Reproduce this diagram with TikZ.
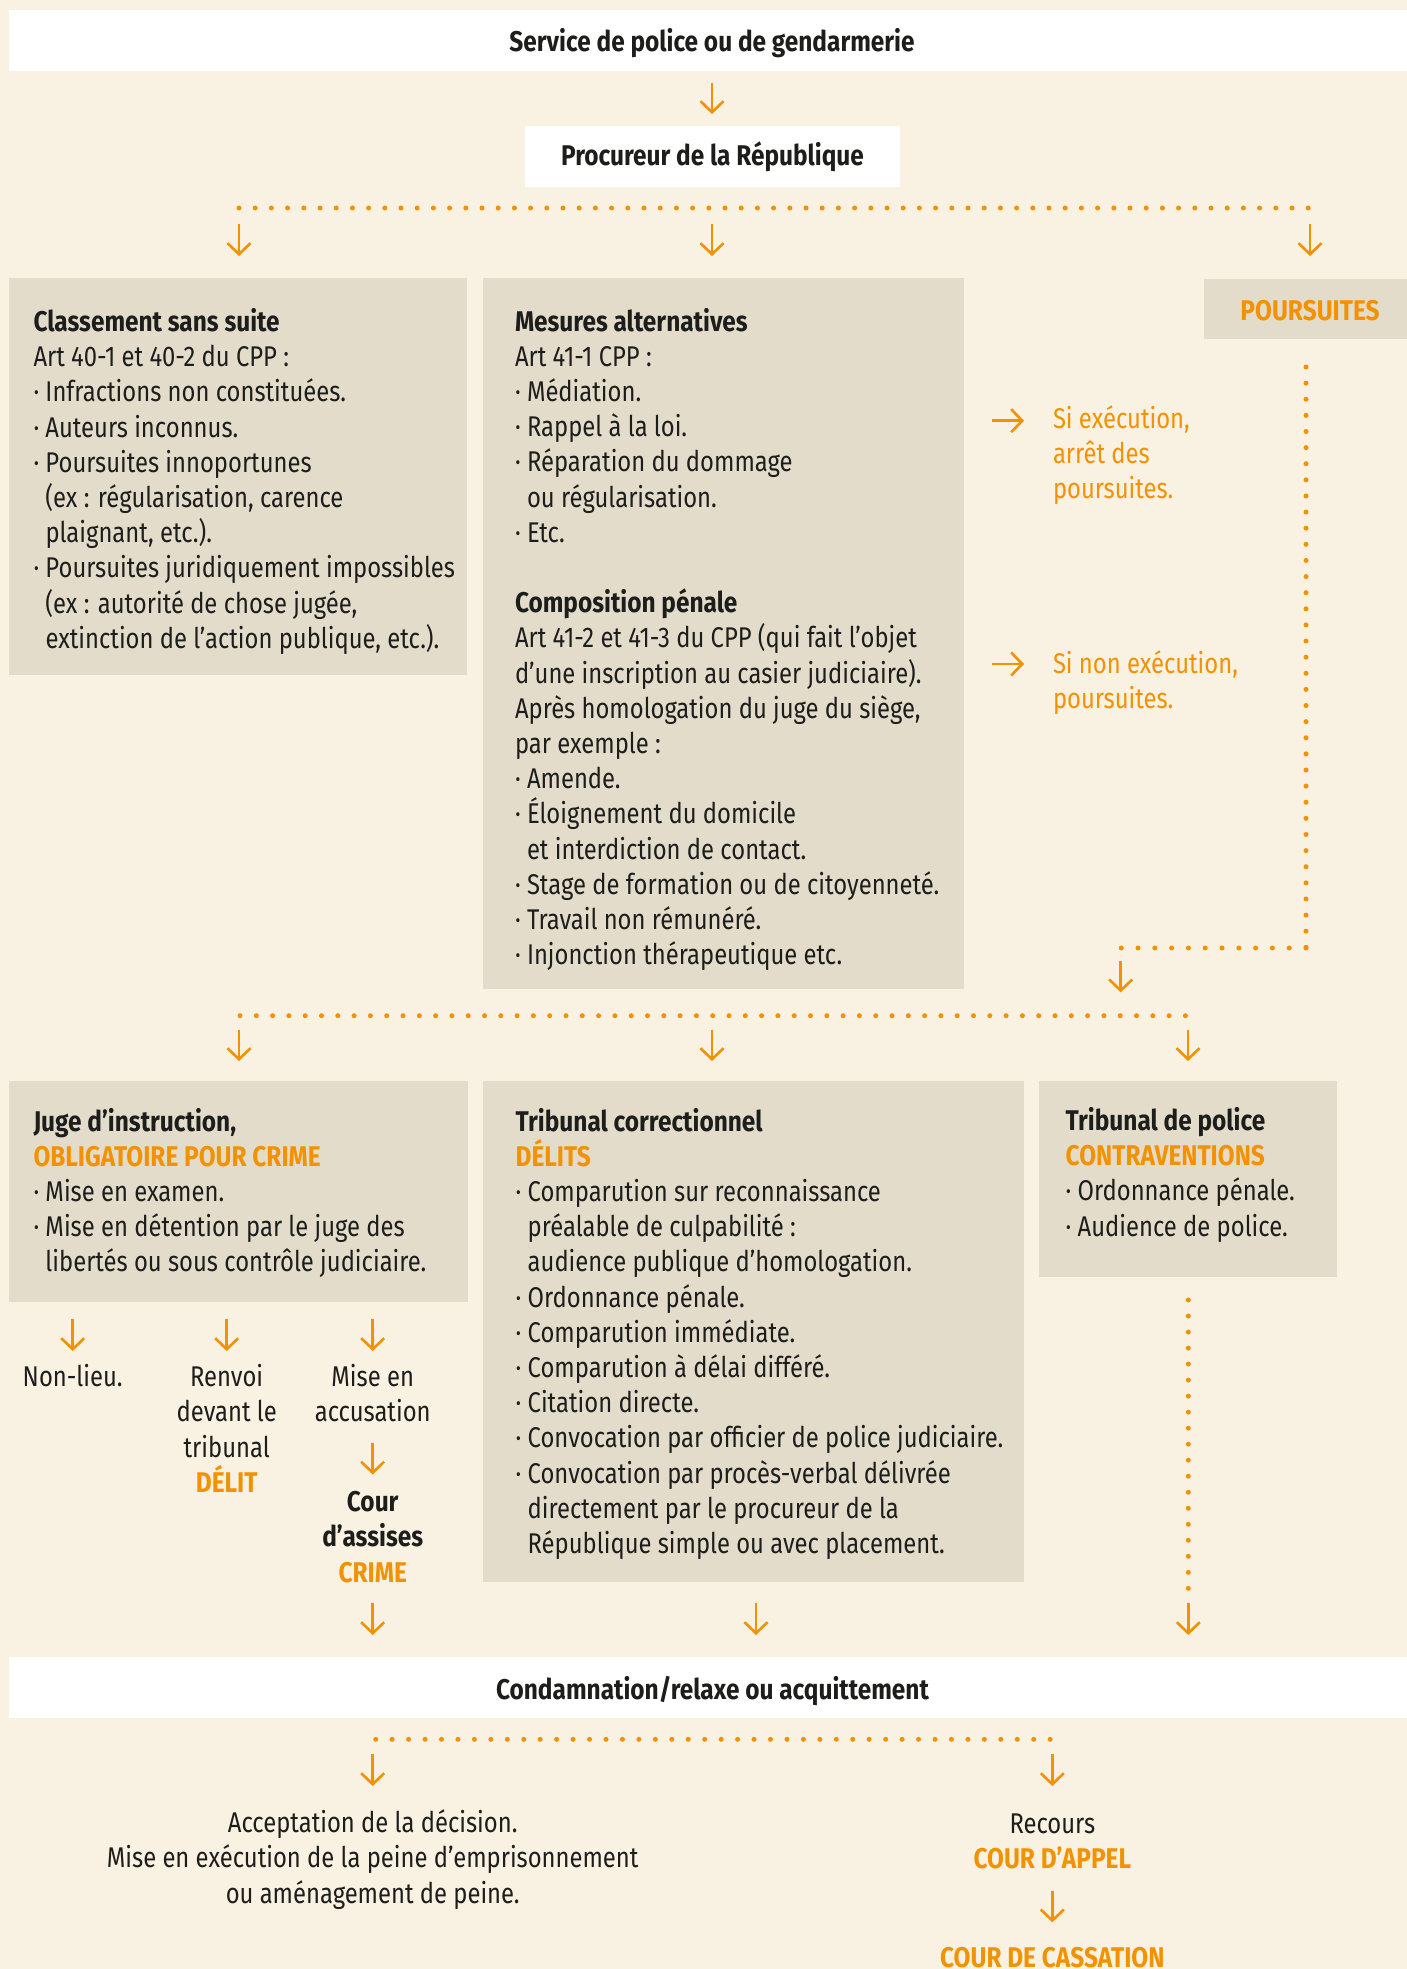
\documentclass[tikz,border=0pt]{standalone}
\usepackage{fontspec}
\setmainfont{Fira Sans}[UprightFeatures={FakeStretch=0.835},BoldFeatures={FakeStretch=0.857}]
\usetikzlibrary{arrows.meta}
\definecolor{bg}{HTML}{F9F1E1}
\definecolor{boxg}{HTML}{E3DCCA}
\definecolor{org}{HTML}{F39200}
\definecolor{ink}{HTML}{1D1D1B}
\newcommand\Lstack[1]{\vtop{\baselineskip=35.2pt\lineskiplimit=-100pt\lineskip=0pt #1}}
\newcommand\Lone[1]{\hbox{#1}}
\newcommand\Lbul[1]{\hbox{\makebox[12pt][l]{·}#1}}
\newcommand\Lcont[1]{\hbox{\hspace*{12pt}#1}}
\newcommand\Lcen[1]{\hbox to 0pt{\hss#1\hss}}
\newcommand\Hd[1]{{\bfseries #1}}
\newcommand\Og[1]{{\bfseries\color{org}#1}}
\begin{document}
\begin{tikzpicture}[x=1pt,y=-1pt,
  every node/.style={inner sep=0pt, outer sep=0pt, text=ink, font=\fontsize{28.5}{35.2}\selectfont},
  graybox/.style={fill=boxg, draw=none, anchor=north west},
  whitebox/.style={fill=white, draw=none, anchor=north west},
  arr/.style={draw=org, line width=2.6pt, -{Straight Barb[length=11pt,width=23pt,line width=2.6pt]}},
  dots/.style={draw=org, line width=5pt, line cap=round, dash pattern=on 0pt off #1},
  txt/.style={anchor=base west},
  ctxt/.style={anchor=base},
]
\useasboundingbox (0,0) rectangle (1407,1969);
\fill[bg] (0,0) rectangle (1407,1969);

% top bars
\node[whitebox, minimum width=1398pt, minimum height=60.7pt] (police) at (9,10) {};
\node[ctxt, font=\fontsize{28.5}{35.2}\selectfont\bfseries] (policeT) at (712,51.5) {Service de police ou de gendarmerie};
\node[whitebox, minimum width=375pt, minimum height=61pt] (proc) at (525,126) {};
\node[ctxt, font=\fontsize{28.5}{35.2}\selectfont\bfseries] (procT) at (712.5,166) {Procureur de la République};
\coordinate (a0s) at (712,83);
\coordinate (a0e) at (712,114);
\draw[arr] (a0s) -- (a0e);

% first dotted line
\coordinate (d1l) at (239,208);
\coordinate (d1r) at (1310,208);
\draw[dots=16.2pt] (d1l) -- (d1r);
\foreach \i/\xx in {1/239,2/712,3/1310}{
  \coordinate (b\i s) at (\xx,224);
  \coordinate (b\i e) at (\xx,256);
  \draw[arr] (b\i s) -- (b\i e);
}

% row 1 boxes
\node[graybox, minimum width=458pt, minimum height=397pt] (cls) at (9,277.6) {};
\node[txt] (clsT) at (33.5,331.5) {\Lstack{%
\Lone{\Hd{Classement sans suite}}
\Lone{Art 40-1 et 40-2 du CPP :}
\Lbul{Infractions non constituées.}
\Lbul{Auteurs inconnus.}
\Lbul{Poursuites innoportunes}
\Lcont{(ex : régularisation, carence}
\Lcont{plaignant, etc.).}
\Lbul{Poursuites juridiquement impossibles}
\Lcont{(ex : autorité de chose jugée,}
\Lcont{extinction de l’action publique, etc.).}}};

\node[graybox, minimum width=481pt, minimum height=710.5pt] (mes) at (483,278) {};
\node[txt] (mesT) at (515,331) {\Lstack{%
\Lone{\Hd{Mesures alternatives}}
\Lone{Art 41-1 CPP :}
\Lbul{Médiation.}
\Lbul{Rappel à la loi.}
\Lbul{Réparation du dommage}
\Lcont{ou régularisation.}
\Lbul{Etc.}
\Lone{}
\Lone{\Hd{Composition pénale}}
\Lone{Art 41-2 et 41-3 du CPP (qui fait l’objet}
\Lone{d’une inscription au casier judiciaire).}
\Lone{Après homologation du juge du siège,}
\Lone{par exemple :}
\Lbul{Amende.}
\Lbul{Éloignement du domicile}
\Lcont{et interdiction de contact.}
\Lbul{Stage de formation ou de citoyenneté.}
\Lbul{Travail non rémunéré.}
\Lbul{Injonction thérapeutique etc.}}};

\node[graybox, minimum width=203pt, minimum height=60pt] (pours) at (1204,278.7) {};
\node[ctxt] (poursT) at (1310,320) {\Og{POURSUITES}};

% alternatives outcomes
\coordinate (r1s) at (991.7,420.7);
\coordinate (r1e) at (1024,420.7);
\draw[arr] (r1s) -- (r1e);
\node[txt, text=org] (si1) at (1053,428) {\Lstack{\Lone{Si exécution,}\Lone{arrêt des}\Lone{poursuites.}}};
\coordinate (r2s) at (991.7,664);
\coordinate (r2e) at (1024,664);
\draw[arr] (r2s) -- (r2e);
\node[txt, text=org] (si2) at (1053,673) {\Lstack{\Lone{Si non exécution,}\Lone{poursuites.}}};

% poursuites dotted path
\coordinate (pv1) at (1306,367);
\coordinate (pv2) at (1306,948);
\coordinate (pv3) at (1121,948);
\draw[dots=16.12pt] (pv1) -- (pv2);
\draw[dots=16.8pt] (pv2) -- (pv3);
\coordinate (c0s) at (1120.7,961);
\coordinate (c0e) at (1120.7,992.3);
\draw[arr] (c0s) -- (c0e);

% second dotted line
\coordinate (d2l) at (240,1015.7);
\coordinate (d2r) at (1187,1015.7);
\draw[dots=16.3pt] (d2l) -- (d2r);
\foreach \i/\xx in {1/239,2/712,3/1188}{
  \coordinate (c\i s) at (\xx,1029.5);
  \coordinate (c\i e) at (\xx,1061);
  \draw[arr] (c\i s) -- (c\i e);
}

% row 2 boxes
\node[graybox, minimum width=458.5pt, minimum height=220.5pt] (juge) at (9,1081) {};
\node[txt] (jugeT) at (33.5,1131) {\Lstack{%
\Lone{\Hd{Juge d’instruction,}}
\Lone{\Og{OBLIGATOIRE POUR CRIME}}
\Lbul{Mise en examen.}
\Lbul{Mise en détention par le juge des}
\Lcont{libertés ou sous contrôle judiciaire.}}};

\node[graybox, minimum width=541pt, minimum height=501pt] (tc) at (483,1081) {};
\node[txt] (tcT) at (515.7,1131) {\Lstack{%
\Lone{\Hd{Tribunal correctionnel}}
\Lone{\Og{DÉLITS}}
\Lbul{Comparution sur reconnaissance}
\Lcont{préalable de culpabilité :}
\Lcont{audience publique d’homologation.}
\Lbul{Ordonnance pénale.}
\Lbul{Comparution immédiate.}
\Lbul{Comparution à délai différé.}
\Lbul{Citation directe.}
\Lbul{Convocation par officier de police judiciaire.}
\Lbul{Convocation par procès-verbal délivrée}
\Lcont{directement par le procureur de la}
\Lcont{République simple ou avec placement.}}};

\node[graybox, minimum width=297.7pt, minimum height=195.7pt] (tp) at (1039,1081) {};
\node[txt] (tpT) at (1065.7,1130.5) {\Lstack{%
\Lone{\Hd{Tribunal de police}}
\Lone{\Og{CONTRAVENTIONS}}
\Lbul{Ordonnance pénale.}
\Lbul{Audience de police.}}};

% juge outcomes
\foreach \i/\xx in {1/72.7,2/226.7,3/372.7}{
  \coordinate (j\i s) at (\xx,1319);
  \coordinate (j\i e) at (\xx,1351);
  \draw[arr] (j\i s) -- (j\i e);
}
\node[ctxt] (nonlieu) at (72.7,1386.7) {Non-lieu.};
\node[ctxt] (renvoi) at (226.7,1386.7) {\Lstack{\Lcen{Renvoi}\Lcen{devant le}\Lcen{tribunal}\Lcen{\Og{DÉLIT}}}};
\node[ctxt] (misacc) at (372.7,1386.7) {\Lstack{\Lcen{Mise en}\Lcen{accusation}}};
\coordinate (j4s) at (372.7,1443.3);
\coordinate (j4e) at (372.7,1474.5);
\draw[arr] (j4s) -- (j4e);
\node[ctxt] (assises) at (372.7,1511.7) {\Lstack{\Lcen{\Hd{Cour}}\Lcen{\Hd{d’assises}}\Lcen{\Og{CRIME}}}};

% arrows into condamnation
\foreach \i/\xx in {1/372.7,2/756,3/1188.3}{
  \coordinate (k\i s) at (\xx,1603.3);
  \coordinate (k\i e) at (\xx,1635);
  \draw[arr] (k\i s) -- (k\i e);
}
\coordinate (tpv1) at (1188.3,1300);
\coordinate (tpv2) at (1188.3,1588.7);
\draw[dots=16.02pt] (tpv1) -- (tpv2);

% condamnation bar
\node[whitebox, minimum width=1398pt, minimum height=61pt] (cond) at (9,1656.7) {};
\node[ctxt, font=\fontsize{28.5}{35.2}\selectfont\bfseries] (condT) at (712.5,1699.5) {Condamnation/relaxe ou acquittement};

% bottom
\coordinate (d3l) at (375.7,1739.3);
\coordinate (d3r) at (1052,1739.3);
\draw[dots=16.45pt] (d3l) -- (d3r);
\foreach \i/\xx in {1/372.7,2/1052.3}{
  \coordinate (m\i s) at (\xx,1754.3);
  \coordinate (m\i e) at (\xx,1786);
  \draw[arr] (m\i s) -- (m\i e);
}
\node[ctxt] (accept) at (372.7,1832.7) {\Lstack{\Lcen{Acceptation de la décision.}\Lcen{Mise en exécution de la peine d’emprisonnement}\Lcen{ou aménagement de peine.}}};
\node[ctxt] (recours) at (1052.3,1833.3) {\Lstack{\Lcen{Recours}\Lcen{\Og{COUR D’APPEL}}}};
\coordinate (m3s) at (1052.3,1890.7);
\coordinate (m3e) at (1052.3,1922.3);
\draw[arr] (m3s) -- (m3e);
\node[ctxt] (cass) at (1052.3,1967) {\Og{COUR DE CASSATION}};
\end{tikzpicture}
\end{document}
